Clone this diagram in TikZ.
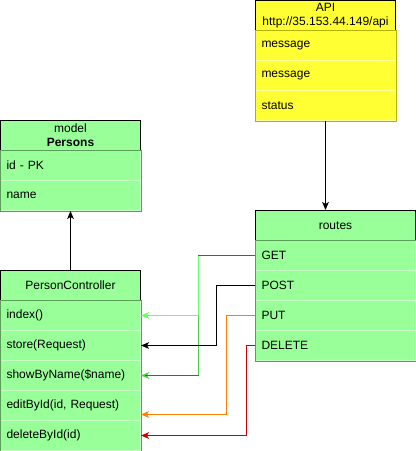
\documentclass[tikz,border=0pt]{standalone}
\usepackage{fontspec}
\setmainfont{Liberation Sans}
\usetikzlibrary{arrows.meta}
\definecolor{lgfill}{HTML}{99FF99}
\definecolor{lgsep}{HTML}{C6FFC6}
\definecolor{lgborder}{HTML}{5A9E5A}
\definecolor{yfill}{HTML}{FFFF33}
\definecolor{ysep}{HTML}{FFFF99}
\definecolor{yborder}{HTML}{B3B300}
\definecolor{lightarrow}{HTML}{66FF66}
\definecolor{darkarrow}{HTML}{009900}
\definecolor{midarrow}{HTML}{4CCC4C}
\definecolor{orangearrow}{HTML}{FF8000}
\definecolor{redarrow}{HTML}{CC0000}
\tikzset{
  base/.style={font=\fontsize{9pt}{10.5pt}\selectfont, inner sep=0pt, minimum height=22.5pt, line width=0.75pt},
  hdr/.style={base, draw=black, align=center},
  grnrow/.style={base, fill=lgfill, draw=lgsep, align=left, inner xsep=4.5pt},
  yelrow/.style={base, fill=yfill, draw=ysep, align=left, inner xsep=4.5pt},
  wsmall/.style={minimum width=105pt, text width=96pt},
  wbig/.style={minimum width=120pt, text width=111pt},
  link/.style={line width=0.75pt, -{Stealth[length=6pt,width=5pt,inset=1.5pt]}},
}
\begin{document}
\begin{tikzpicture}[x=0.75pt,y=-0.75pt]
\useasboundingbox (-0.5,-0.5) rectangle (415.5,450.5);
% API
\node[hdr, fill=yfill, minimum width=105pt] (api) at (325,15) {API\\http://35.153.44.149/api};
\node[yelrow, wsmall] (m1) at (325,45) {message};
\node[yelrow, wsmall] (m2) at (325,75) {message};
\node[yelrow, wsmall] (st) at (325,105) {status};
\draw[yborder, line width=0.75pt] (m1.north west) rectangle (st.south east);
% Persons
\node[hdr, fill=lgfill, minimum width=105pt] (persons) at (70,135) {model\\\textbf{Persons}};
\node[grnrow, wsmall] (pid) at (70,165) {id - PK};
\node[grnrow, wsmall] (pname) at (70,195) {name};
\draw[lgborder, line width=0.75pt] (pid.north west) rectangle (pname.south east);
% routes
\node[hdr, fill=lgfill, minimum width=120pt] (routes) at (335,225) {routes};
\node[grnrow, wbig] (get) at (335,255) {GET};
\node[grnrow, wbig] (post) at (335,285) {POST};
\node[grnrow, wbig] (put) at (335,315) {PUT};
\node[grnrow, wbig] (del) at (335,345) {DELETE};
\draw[lgborder, line width=0.75pt] (get.north west) rectangle (del.south east);
% PersonController
\node[hdr, fill=lgfill, minimum width=105pt] (ctrl) at (70,285) {PersonController};
\node[grnrow, wsmall] (index) at (70,315) {index()};
\node[grnrow, wsmall] (store) at (70,345) {store(Request)};
\node[grnrow, wsmall] (show) at (70,375) {showByName(\$name)};
\node[grnrow, wsmall] (edit) at (70,405) {editById(id, Request)};
\node[grnrow, wsmall] (delid) at (70,435) {deleteById(id)};
\draw[lgborder, line width=0.75pt] (index.north west) rectangle (delid.south east);
% connectors
\draw[link] (st.south) -- (st.south |- routes.north);
\draw[link] (ctrl.north) -- (pname.south);
\draw[link, midarrow] (get.west) -- ++(-57,0) |- (show.east);
\draw[line width=0.75pt, darkarrow] (get.west) -- ++(-57,0);
\draw[line width=0.75pt, darkarrow] ([xshift=3pt]show.east) -- ++(54,0);
\draw[link, lightarrow] (get.west) ++(-57,0) |- (index.east);
\draw[link, black] (post.west) -- ++(-39,0) |- (store.east);
\draw[link, orangearrow] (put.west) -- ++(-29,0) |- ([yshift=-6.75pt]edit.east);
\draw[link, redarrow] (del.west) -- ++(-9,0) |- (delid.east);
\end{tikzpicture}
\end{document}
